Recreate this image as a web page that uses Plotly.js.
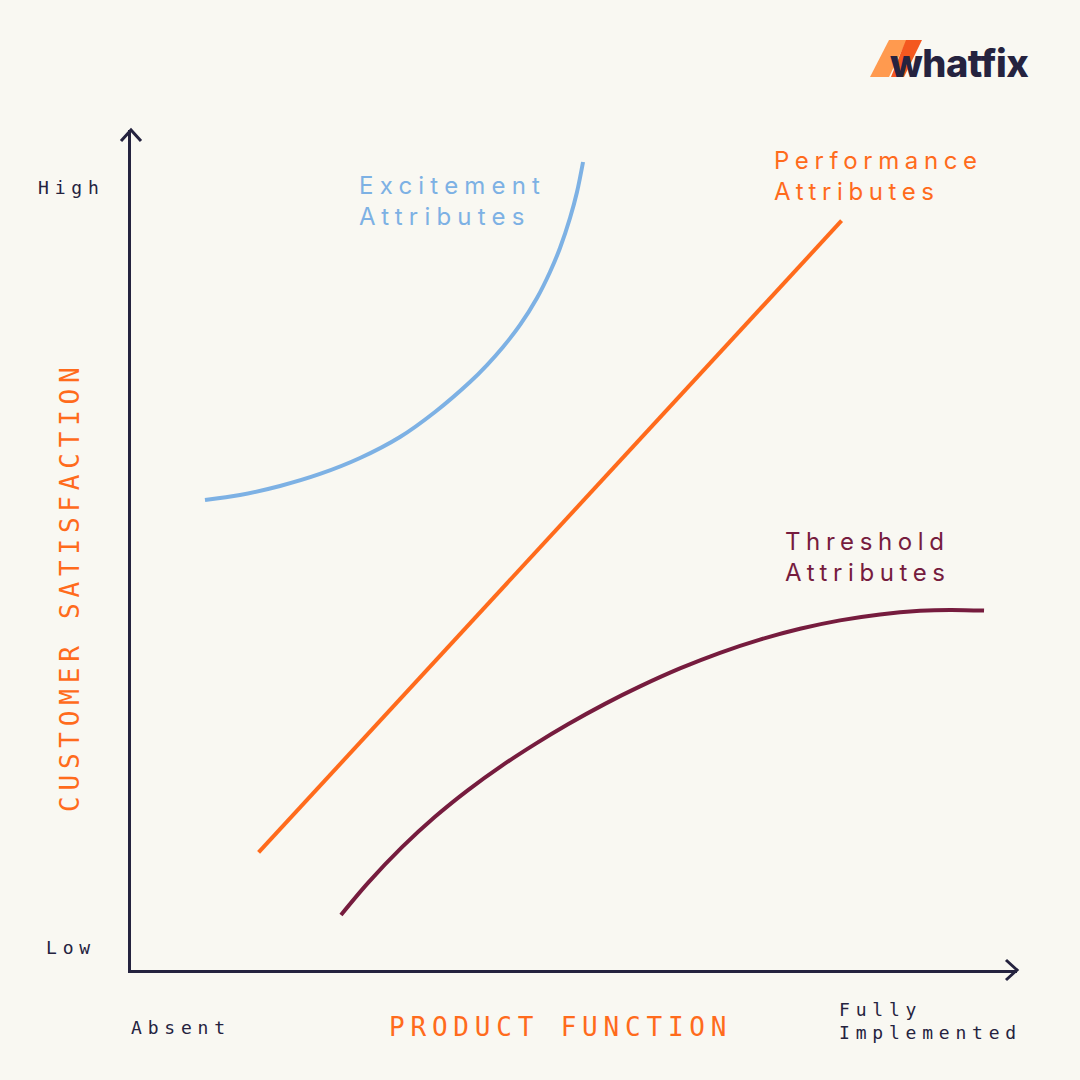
<!DOCTYPE html>
<html>
<head>
<meta charset="utf-8">
<script src="https://cdn.plot.ly/plotly-3.0.1.min.js"></script>
<style>
  html, body { margin: 0; padding: 0; background: #f9f8f2; }
  #chart { width: 1080px; height: 1080px; }
</style>
</head>
<body>
<div id="chart"></div>
<script>
// ---- data (x: product function 0=absent..100=fully implemented; y: satisfaction 0=low..100=high)
const excitementX = [8.35, 12.30, 16.82, 21.33, 25.85, 30.36, 34.31, 38.26, 40.18, 41.99, 43.91, 45.82, 47.29, 48.42, 49.55, 50.34, 51.02];
const excitementY = [55.95, 56.55, 57.62, 59.05, 60.95, 63.45, 66.43, 70.0, 72.02, 74.17, 76.79, 80.0, 83.10, 85.95, 89.52, 92.62, 96.19];
const performanceX = [14.4, 80.2];
const performanceY = [14.0, 89.2];
const thresholdX = [23.70, 26.75, 30.59, 34.31, 38.04, 41.87, 45.60, 49.32, 53.50, 57.45, 61.96, 66.48, 70.99, 75.51, 80.02, 84.54, 89.05, 92.44, 96.28];
const thresholdY = [6.55, 10.37, 14.62, 18.24, 21.42, 24.33, 26.89, 29.25, 31.68, 33.76, 35.90, 37.76, 39.33, 40.62, 41.62, 42.33, 42.76, 42.87, 42.79];

const seriesNames = ["Excitement<br>Attributes", "Performance<br>Attributes", "Threshold<br>Attributes"];
const yTickLabels = ["Low", "High"];
const xTickLabels = ["Absent", "Fully<br>Implemented"];
const xTitle = "PRODUCT FUNCTION";
const yTitle = "CUSTOMER SATISFACTION";
const brand = "whatfix";

// ---- styling
const BG = "#f9f8f2";
const DARK = "#25233f";
const BLUE = "#7db1e4";
const ORANGE = "#ff6b1c";
const MAROON = "#761c3e";
const MONO = "DejaVu Sans Mono, Liberation Mono, monospace";
const SANS = "Inter, Roboto, sans-serif";

const M = {l: 131, r: 63, t: 130, b: 110};
const PW = 1080 - M.l - M.r, PH = 1080 - M.t - M.b;
const PX = p => (p - M.l) / PW;         // figure pixel -> paper x
const PY = p => (1080 - M.b - p) / PH;  // figure pixel -> paper y

function spaced(txt, s) {
  return txt.split("<br>").map(l => `<span style="letter-spacing:${s}px">${l}</span>`).join("<br>");
}
function poly(pts) {
  return "M " + pts.map(p => PX(p[0]) + "," + PY(p[1])).join(" L ") + " Z";
}

const traces = [
  {x: excitementX, y: excitementY, mode: "lines", line: {color: BLUE, width: 4, shape: "spline", smoothing: 0.9}, hoverinfo: "skip"},
  {x: performanceX, y: performanceY, mode: "lines", line: {color: ORANGE, width: 4}, hoverinfo: "skip"},
  {x: thresholdX, y: thresholdY, mode: "lines", line: {color: MAROON, width: 4, shape: "spline", smoothing: 0.9}, hoverinfo: "skip"}
];

const annotations = [
  {text: spaced(seriesNames[0], 6.2), x: PX(357), y: PY(201), xref: "paper", yref: "paper", xanchor: "left", yanchor: "middle", align: "left", showarrow: false, font: {family: SANS, size: 24, color: BLUE}},
  {text: spaced(seriesNames[1], 5.6), x: PX(772), y: PY(176), xref: "paper", yref: "paper", xanchor: "left", yanchor: "middle", align: "left", showarrow: false, font: {family: SANS, size: 24, color: ORANGE}},
  {text: spaced(seriesNames[2], 5.6), x: PX(783), y: PY(557), xref: "paper", yref: "paper", xanchor: "left", yanchor: "middle", align: "left", showarrow: false, font: {family: SANS, size: 24, color: MAROON}},
  {text: spaced(yTickLabels[1], 5.8), x: PX(71), y: PY(188), xref: "paper", yref: "paper", xanchor: "center", yanchor: "middle", showarrow: false, font: {family: MONO, size: 18, color: DARK}},
  {text: spaced(yTickLabels[0], 5.8), x: PX(71), y: PY(947), xref: "paper", yref: "paper", xanchor: "center", yanchor: "middle", showarrow: false, font: {family: MONO, size: 18, color: DARK}},
  {text: spaced(xTickLabels[0], 5.8), x: PX(129), y: PY(1027), xref: "paper", yref: "paper", xanchor: "left", yanchor: "middle", showarrow: false, font: {family: MONO, size: 18, color: DARK}},
  {text: spaced(xTickLabels[1], 5.8), x: PX(837), y: PY(1021), xref: "paper", yref: "paper", xanchor: "left", yanchor: "middle", align: "left", showarrow: false, font: {family: MONO, size: 18, color: DARK}},
  {text: spaced(xTitle, 5.8), x: PX(560), y: PY(1027), xref: "paper", yref: "paper", xanchor: "center", yanchor: "middle", showarrow: false, font: {family: MONO, size: 26, color: ORANGE}},
  {text: spaced(yTitle, 5.8), x: PX(70), y: PY(587), xref: "paper", yref: "paper", xanchor: "center", yanchor: "middle", textangle: -90, showarrow: false, font: {family: MONO, size: 26, color: ORANGE}},
  {text: `<span style="letter-spacing:-0.5px">${brand}</span>`, x: PX(888), y: PY(63), xref: "paper", yref: "paper", xanchor: "left", yanchor: "middle", showarrow: false, font: {family: SANS, size: 38, weight: 800, color: DARK}}
];

const shapes = [
  // axis arrows (open chevrons)
  {type: "path", xref: "paper", yref: "paper", path: `M ${1 - 11/PW},${10/PH} L 1,0 L ${1 - 11/PW},${-10/PH}`, line: {color: DARK, width: 3}},
  {type: "path", xref: "paper", yref: "paper", path: `M ${-10/PW},${1 - 11/PH} L 0,1 L ${10/PW},${1 - 11/PH}`, line: {color: DARK, width: 3}},
  // logo marks
  {type: "path", xref: "paper", yref: "paper", layer: "below", path: poly([[870,77],[889,77],[907,40],[889,40]]), fillcolor: "#ff9a4f", line: {width: 0}},
  {type: "path", xref: "paper", yref: "paper", layer: "below", path: poly([[891,77],[904,77],[922,40],[906,40]]), fillcolor: "#f4581f", line: {width: 0}}
];

const layout = {
  width: 1080, height: 1080,
  margin: M,
  paper_bgcolor: BG, plot_bgcolor: BG,
  showlegend: false,
  xaxis: {range: [0, 100], showgrid: false, zeroline: false, showticklabels: false, ticks: "", showline: true, linecolor: DARK, linewidth: 3, fixedrange: true},
  yaxis: {range: [0, 100], showgrid: false, zeroline: false, showticklabels: false, ticks: "", showline: true, linecolor: DARK, linewidth: 3, fixedrange: true},
  annotations: annotations,
  shapes: shapes
};

Plotly.newPlot("chart", traces, layout, {displayModeBar: false, staticPlot: true});
</script>
</body>
</html>
